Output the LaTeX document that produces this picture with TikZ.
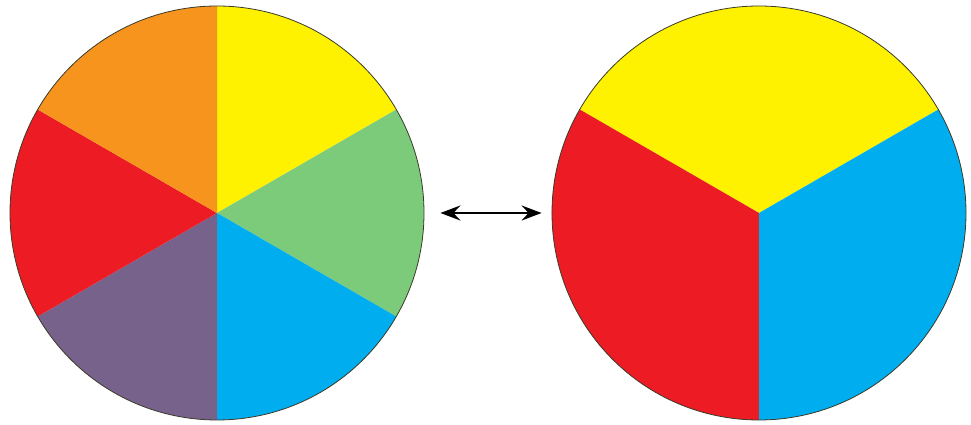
\documentclass[tikz,border=0pt]{standalone}
\usetikzlibrary{arrows.meta}
\definecolor{cyel}{HTML}{FFF200}
\definecolor{cora}{HTML}{F7941D}
\definecolor{cred}{HTML}{ED1C24}
\definecolor{cgre}{HTML}{7CCB7B}
\definecolor{cblu}{HTML}{00AEEF}
\definecolor{cpur}{HTML}{77628C}
\definecolor{rim}{HTML}{3A3A2A}
\begin{document}
\begin{tikzpicture}[x=1pt, y=1pt, line join=round, line cap=round, >={Stealth[length=20pt,width=15pt,inset=7pt]}]
				\useasboundingbox (0,0) rectangle (971,425);
				\coordinate (L) at (217,212);
				\coordinate (R) at (759,212);
				% six-part wheel
				\foreach \a/\b/\c in {30/90/cyel, -30/30/cgre, -90/-30/cblu, -150/-90/cpur, 150/210/cred, 90/150/cora}
				\fill[\c] (L) -- ++(\a:207) arc[start angle=\a, end angle=\b, radius=207] -- cycle;
				% three-part wheel
				\foreach \a/\b/\c in {30/150/cyel, 150/270/cred, -90/30/cblu}
				\fill[\c] (R) -- ++(\a:207) arc[start angle=\a, end angle=\b, radius=207] -- cycle;
				\node[circle, draw=rim, line width=0.8pt, minimum size=414pt, inner sep=0pt] (wl) at (L) {};
				\node[circle, draw=rim, line width=0.8pt, minimum size=414pt, inner sep=0pt] (wr) at (R) {};
				\draw[<->, line width=2.6pt] ([xshift=16pt]wl.east) -- ([xshift=-10pt]wr.west);
			\end{tikzpicture}
\end{document}
